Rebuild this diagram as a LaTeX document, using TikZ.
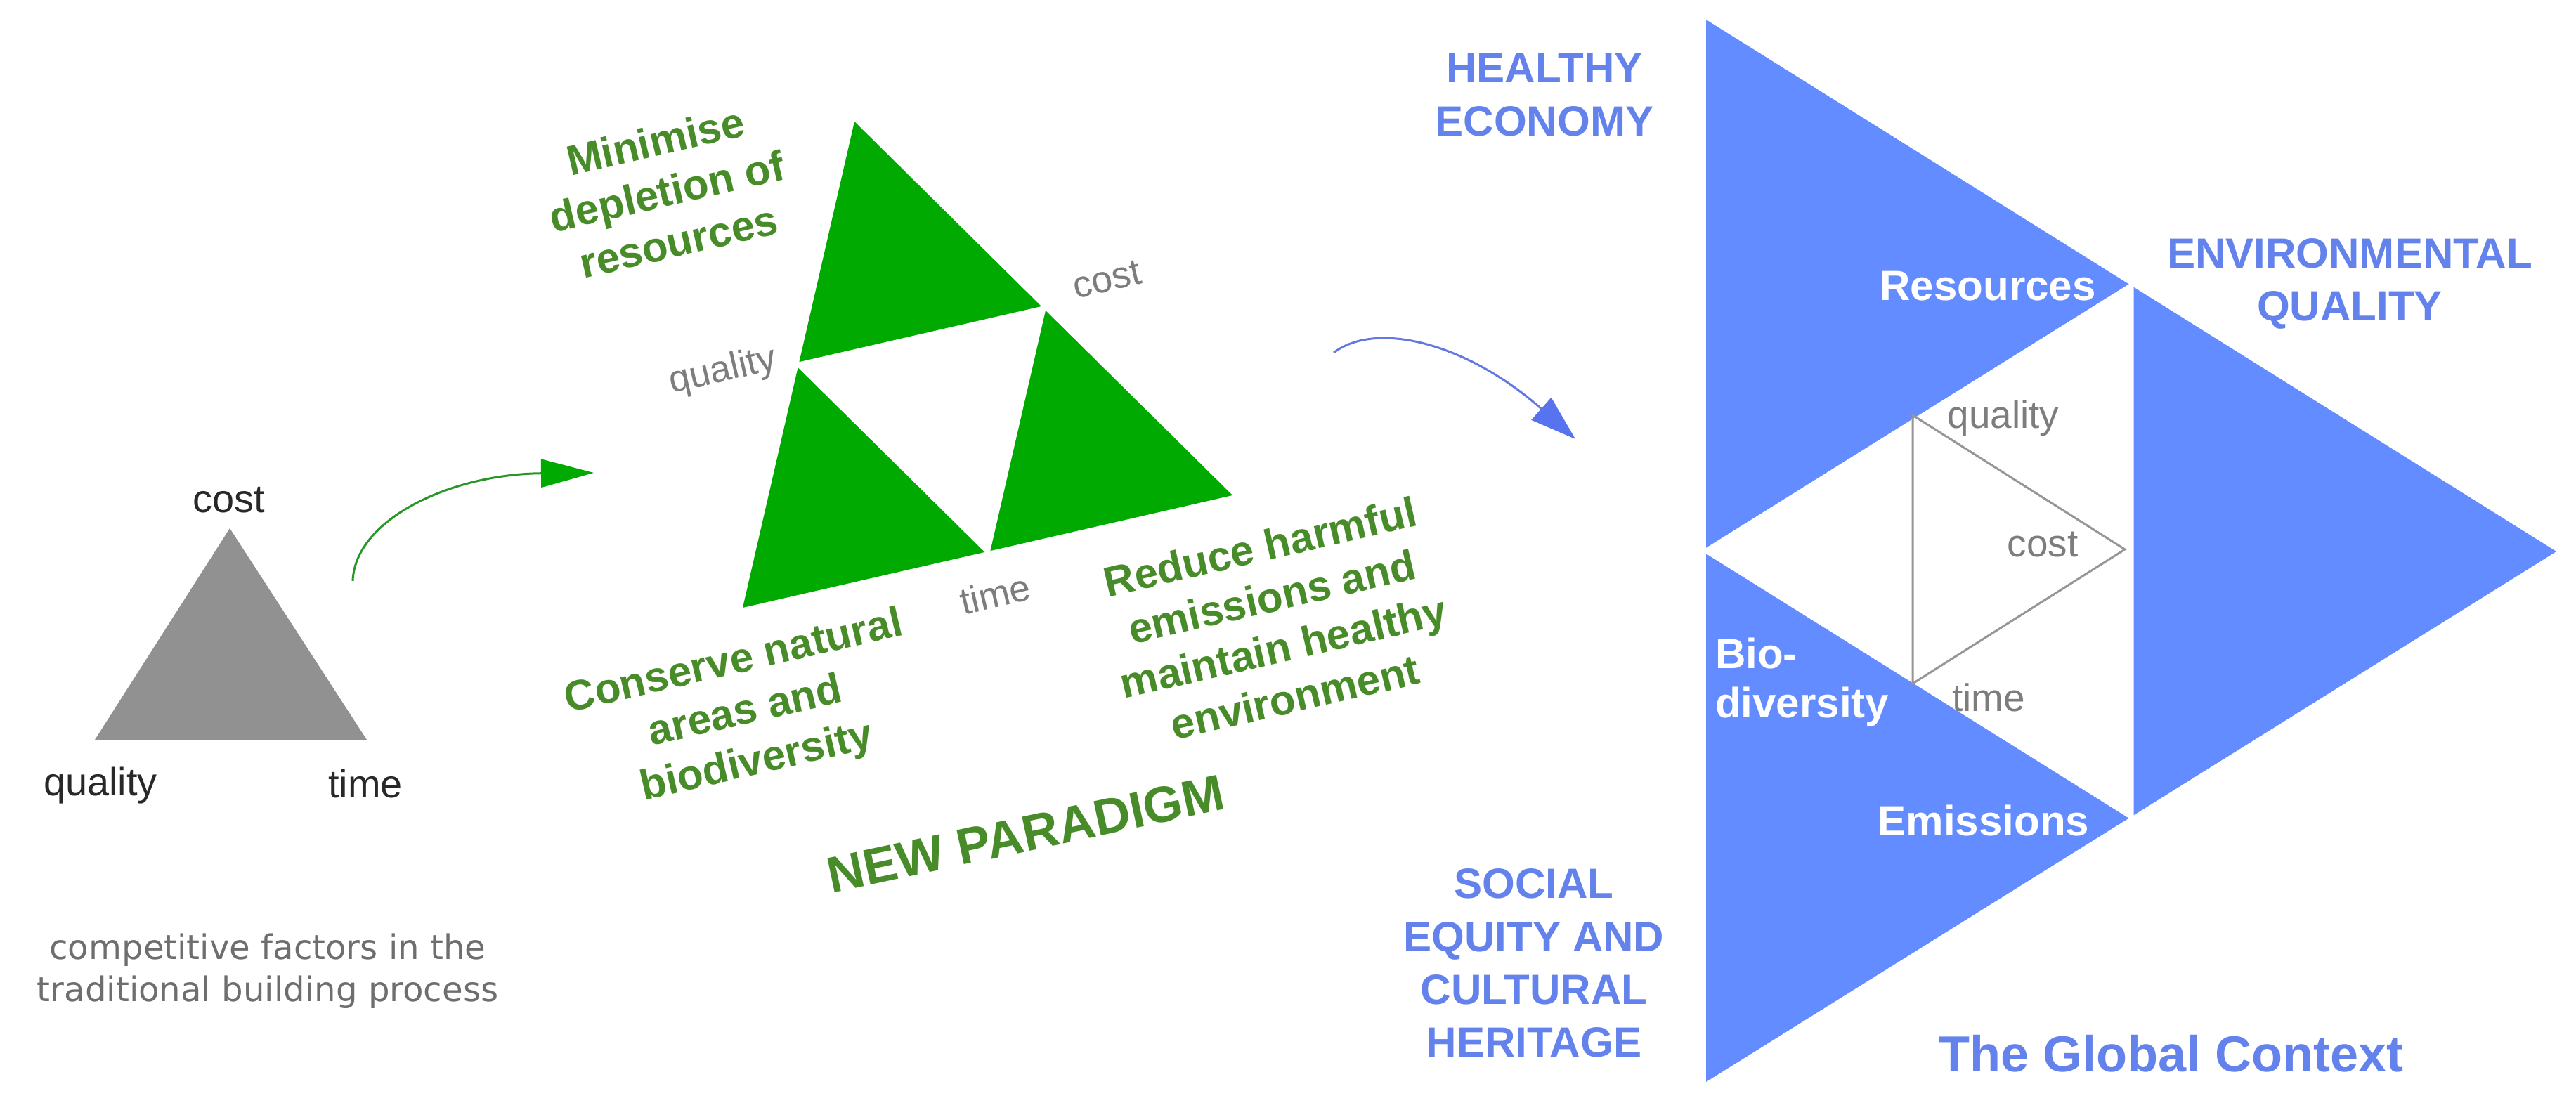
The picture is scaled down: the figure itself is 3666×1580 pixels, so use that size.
\documentclass[tikz,border=0pt]{standalone}
\usepackage{fontspec}
\setmainfont{Liberation Sans}
\newfontfamily\djv{DejaVu Sans}
\usetikzlibrary{arrows.meta,calc}
\definecolor{tgray}{RGB}{145,145,145}
\definecolor{tgreen}{RGB}{0,170,0}
\definecolor{tblue}{RGB}{98,140,255}
\definecolor{tbluedark}{RGB}{88,115,240}
\definecolor{labeldark}{RGB}{40,40,40}
\definecolor{capgray}{RGB}{110,110,110}
\definecolor{lgray}{RGB}{125,125,125}
\definecolor{gtextc}{RGB}{72,140,42}
\definecolor{btextc}{RGB}{100,130,235}
\definecolor{garrowc}{RGB}{40,150,40}
\definecolor{barrowc}{RGB}{100,120,225}
\definecolor{linegray}{RGB}{150,150,150}
\begin{document}
\begin{tikzpicture}[x=0.01cm,y=-0.01cm,
  every node/.style={inner sep=0pt,outer sep=0pt},
  darklbl/.style={text=labeldark,font=\fontsize{15.9}{19}\selectfont},
  capstyle/.style={text=capgray,font=\djv\fontsize{13.7}{17.1}\selectfont,align=center},
  gtext/.style={text=gtextc,font=\bfseries\fontsize{17.1}{20.8}\selectfont,align=center,rotate=13},
  glbl/.style={text=lgray,font=\fontsize{15.2}{18}\selectfont,rotate=13},
  btext/.style={text=btextc,font=\bfseries\fontsize{17.1}{21.4}\selectfont,align=center},
  wtext/.style={text=white,font=\bfseries\fontsize{17.1}{19.9}\selectfont},
  ilbl/.style={text=lgray,font=\fontsize{15.6}{19}\selectfont},
  garrow/.style={draw=garrowc,line width=0.03cm,-{Triangle[length=0.75cm,width=0.4cm,color=tgreen]}},
  barrow/.style={draw=barrowc,line width=0.03cm,-{Triangle[length=0.65cm,width=0.42cm,color=tbluedark]}},
  gap/.style={fill=white,draw=white,line width=0.07cm,line join=miter}
]
\useasboundingbox (0,0) rectangle (3666,1580);

% ---------------- traditional triangle ----------------
\coordinate (g1) at (327,752);
\coordinate (g2) at (135,1053);
\coordinate (g3) at (522,1053);
\fill[tgray] (g1) -- (g2) -- (g3) -- cycle;
\node[darklbl] (lcost) at (326,712) {cost};
\node[darklbl] (lquality) at (143,1118) {quality};
\node[darklbl] (ltime) at (520,1116) {time};
\node[capstyle] (cap) at (381,1382) {competitive factors in the\\traditional building process};

% ---------------- new paradigm ----------------
\coordinate (gt) at (1216,173);
\coordinate (gl) at (1057,865);
\coordinate (gr) at (1754,705);
\fill[tgreen] (gt) -- (gl) -- (gr) -- cycle;
\path[gap] ($(gt)!0.5!(gl)$) -- ($(gt)!0.5!(gr)$) -- ($(gl)!0.5!(gr)$) -- cycle;

\node[gtext] (minimise) at (949,272) {Minimise\\depletion of\\resources};
\node[gtext] (conserve) at (1061,1015) {Conserve natural\\areas and\\biodiversity};
\node[gtext] (reduce) at (1818,885) {Reduce harmful\\emissions and\\maintain healthy\\environment};
\node[gtext,font=\bfseries\fontsize{20.5}{24}\selectfont,rotate=-1] (paradigm) at (1460,1187) {NEW PARADIGM};
\node[glbl] (gquality) at (1029,529) {quality};
\node[glbl] (gcost) at (1575,398) {cost};
\node[glbl] (gtime) at (1416,846) {time};

% ---------------- arrows ----------------
\coordinate (ga0) at (502,827);
\coordinate (ga1) at (845,673);
\draw[garrow] (ga0) .. controls (505,740) and (640,675) .. (ga1);
\coordinate (ba0) at (1898,502);
\coordinate (ba1) at (2242,625);
\draw[barrow] (ba0) .. controls (1960,455) and (2090,490) .. (ba1);

% ---------------- global context ----------------
\coordinate (bt) at (2428,28);
\coordinate (bb) at (2428,1540);
\coordinate (br) at (3638,785);
\coordinate (ml) at ($(bt)!0.5!(bb)$);
\coordinate (mt) at ($(bt)!0.5!(br)$);
\coordinate (mb) at ($(bb)!0.5!(br)$);
\fill[tblue] (bt) -- (bb) -- (br) -- cycle;
\path[gap] (ml) -- (mt) -- (mb) -- cycle;
\coordinate (i1) at (2722,591);
\coordinate (i2) at (2722,973);
\coordinate (i3) at (3024,782);
\draw[linegray,line width=0.03cm] (i1) -- (i2) -- (i3) -- cycle;

\node[ilbl] (iquality) at (2851,595) {quality};
\node[ilbl] (icost) at (2907,775) {cost};
\node[ilbl] (itime) at (2830,993) {time};

\node[wtext] (resources) at (2829,407) {Resources};
\node[wtext,align=left,anchor=west] (bio) at (2441,971) {Bio-\\diversity};
\node[wtext] (emissions) at (2823,1168) {Emissions};

\node[btext] (economy) at (2198,135) {HEALTHY\\ECONOMY};
\node[btext] (environ) at (3344,404) {ENVIRONMENTAL\\QUALITY};
\node[btext] (social) at (2183,1371) {SOCIAL\\EQUITY AND\\CULTURAL\\HERITAGE};
\node[btext,font=\bfseries\fontsize{20.5}{24}\selectfont] (global) at (3090,1500) {The Global Context};
\end{tikzpicture}
\end{document}
